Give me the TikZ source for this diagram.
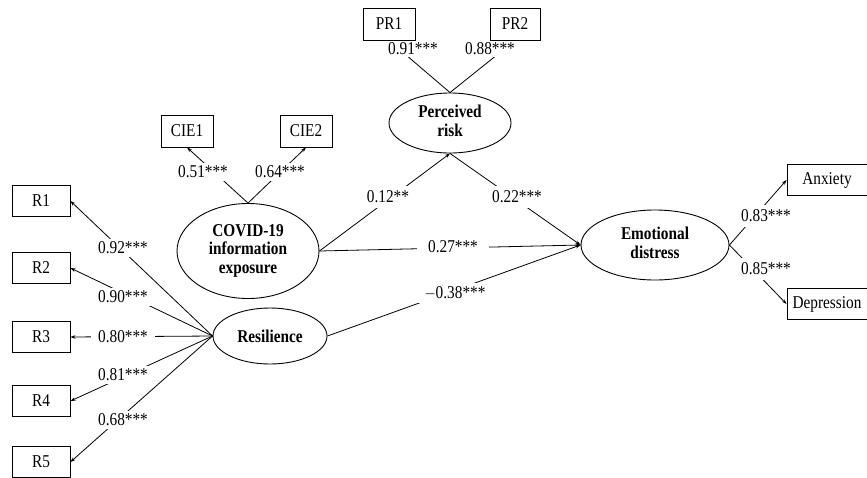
\documentclass[tikz,border=0pt]{standalone}
\usepackage{fontspec}
\usepackage{graphicx}
\setmainfont{Liberation Serif}
\usetikzlibrary{shapes.geometric,arrows.meta}
\newcommand\vsc[1]{\scalebox{1}[1.18]{#1}}
\newcommand\vml[1]{\scalebox{1}[1.18]{\begin{tabular}{@{}c@{}}#1\end{tabular}}}
\begin{document}
\begin{tikzpicture}[x=1pt,y=-1pt,
  txt/.style={font=\fontsize{15.3}{15.8}\selectfont},
  obs/.style={txt,draw,line width=0.9pt,minimum width=58pt,minimum height=31pt,inner sep=0pt},
  lat/.style={font=\fontsize{15.3}{15.8}\selectfont\bfseries,draw,line width=0.9pt,ellipse,inner sep=0pt,align=center},
  lab/.style={txt,fill=white,inner xsep=7pt,inner ysep=3pt},
  conn/.style={line width=0.8pt},
  arr/.style={conn,-{Stealth[length=5pt,width=3.5pt]}}]
\useasboundingbox (0,0) rectangle (867,477);
% observed
\node[obs] (r1) at (41,201) {\vsc{R1}};
\node[obs] (r2) at (41,268) {\vsc{R2}};
\node[obs] (r3) at (41,337) {\vsc{R3}};
\node[obs] (r4) at (41,401) {\vsc{R4}};
\node[obs] (r5) at (41,462) {\vsc{R5}};
\node[obs,minimum width=52pt,minimum height=32pt] (cie1) at (187,131) {\vsc{CIE1}};
\node[obs,minimum width=52pt,minimum height=32pt] (cie2) at (306,131) {\vsc{CIE2}};
\node[obs,minimum width=52pt,minimum height=32pt] (pr1) at (389,24) {\vsc{PR1}};
\node[obs,minimum width=50pt,minimum height=32pt] (pr2) at (515,24) {\vsc{PR2}};
\node[obs,minimum width=80pt] (anx) at (827,180) {\vsc{Anxiety}};
\node[obs,minimum width=80pt] (dep) at (827,304) {\vsc{Depression}};
% latent
\node[lat,minimum width=114pt,minimum height=56pt] (res) at (270,336) {\vsc{Resilience}};
\node[lat,minimum width=142pt,minimum height=95pt] (cov) at (248,251) {\vml{COVID-19\\information\\exposure}};
\node[lat,minimum width=122pt,minimum height=60pt] (pr) at (450,123) {\vml{Perceived\\risk}};
\node[lat,minimum width=148pt,minimum height=70pt] (ed) at (655,245) {\vml{Emotional\\distress}};
% connectors
\draw[arr] (res.west) -- (r1.east);
\draw[arr] (res.west) -- (r2.east);
\draw[arr] (res.west) -- (r3.east);
\draw[arr] (res.west) -- (r4.east);
\draw[arr] (res.west) -- (r5.east);
\draw[arr] (cov.north) -- (cie1.south);
\draw[arr] (cov.north) -- (cie2.south);
\draw[conn] (pr.north) -- (pr1.south);
\draw[conn] (pr.north) -- (pr2.south);
\draw[arr] (cov.east) -- (pr.south);
\draw[arr] (pr.south) -- (ed.west);
\draw[arr] (cov.east) -- (ed.west);
\draw[arr] (res.east) -- (ed.west);
\draw[arr] (ed.east) -- (anx.west);
\draw[arr] (ed.east) -- (dep.west);
% labels
\node[lab] (l1) at (123,248) {\vsc{0.92***}};
\node[lab] (l2) at (123,297) {\vsc{0.90***}};
\node[lab] (l3) at (123,337) {\vsc{0.80***}};
\node[lab] (l4) at (123,375) {\vsc{0.81***}};
\node[lab] (l5) at (123,420) {\vsc{0.68***}};
\node[lab,inner xsep=5pt] (l6) at (203,172) {\vsc{0.51***}};
\node[lab,inner xsep=5pt] (l7) at (280,172) {\vsc{0.64***}};
\node[lab,inner xsep=5pt,inner ysep=1.5pt] (l8) at (413,49) {\vsc{0.91***}};
\node[lab,inner xsep=5pt,inner ysep=1.5pt] (l9) at (490,49) {\vsc{0.88***}};
\node[lab,inner ysep=5pt] (l10) at (388,197) {\vsc{0.12**}};
\node[lab,inner ysep=5pt] (l11) at (517,197) {\vsc{0.22***}};
\node[lab,inner xsep=11pt] (l12) at (453,247) {\vsc{0.27***}};
\node[lab] (l13) at (455,293) {\vsc{$-$0.38***}};
\node[lab,inner xsep=4pt,inner ysep=5pt] (l14) at (766,216) {\vsc{0.83***}};
\node[lab,inner xsep=4pt,inner ysep=5pt] (l15) at (766,269) {\vsc{0.85***}};
\end{tikzpicture}
\end{document}
